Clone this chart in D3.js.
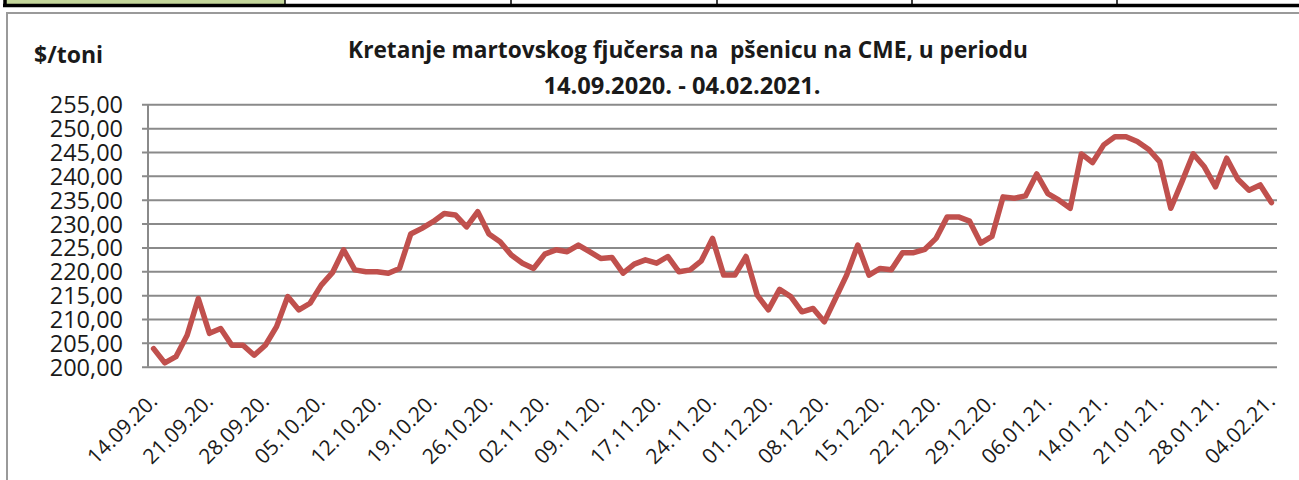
<!DOCTYPE html>
<html>
<head>
<meta charset="utf-8">
<script src="https://cdn.jsdelivr.net/npm/d3@7"></script>
<style>
  html, body { margin: 0; padding: 0; background: #fff; }
  svg { display: block; }
  text { font-family: "Open Sans", Lato, sans-serif; fill: #1a1a1a; }
</style>
</head>
<body>
<svg id="chart" width="1299" height="480"></svg>
<script>
// wheat march futures, $/t, one value per trading day
var prices = [
  203.8, 200.8, 202.1, 206.6, 214.3, 207.0, 208.0, 204.5, 204.5, 202.4,
  204.5, 208.4, 214.7, 211.9, 213.3, 217.1, 219.7, 224.5, 220.3, 219.9,
  219.9, 219.6, 220.6, 227.8, 229.0, 230.4, 232.1, 231.8, 229.3, 232.5,
  227.8, 226.2, 223.4, 221.7, 220.6, 223.6, 224.5, 224.1, 225.5, 224.1,
  222.7, 222.9, 219.6, 221.5, 222.4, 221.7, 223.1, 219.9, 220.3, 222.2,
  226.9, 219.2, 219.2, 223.1, 215.0, 211.9, 216.2, 214.7, 211.5, 212.2,
  209.4, 214.3, 219.2, 225.5, 219.2, 220.6, 220.3, 223.9, 223.9, 224.6,
  226.9, 231.4, 231.4, 230.5, 225.9, 227.3, 235.6, 235.3, 235.8, 240.4,
  236.3, 234.9, 233.2, 244.6, 242.8, 246.5, 248.2, 248.2, 247.2, 245.6,
  243.0, 233.2, 238.8, 244.6, 241.9, 237.7, 243.7, 239.3, 237.0, 238.1,
  234.4
];
// a label on every 5th trading day
var dateLabels = [
  "14.09.20.", "21.09.20.", "28.09.20.", "05.10.20.", "12.10.20.", "19.10.20.",
  "26.10.20.", "02.11.20.", "09.11.20.", "17.11.20.", "24.11.20.", "01.12.20.",
  "08.12.20.", "15.12.20.", "22.12.20.", "29.12.20.", "06.01.21.", "14.01.21.",
  "21.01.21.", "28.01.21.", "04.02.21."
];
var yTicks = [200, 205, 210, 215, 220, 225, 230, 235, 240, 245, 250, 255];
var topCells = [5, 285, 511, 717, 912, 1117];

var svg = d3.select("#chart");
var fmt = function(v) { return d3.format(".2f")(v).replace(".", ","); };

// bits of the table above the chart
svg.append("rect").attr("x", 5).attr("y", -2).attr("width", 280).attr("height", 7)
  .attr("fill", "#c4d79b");
svg.append("line").attr("x1", 3).attr("x2", 1299).attr("y1", 5.5).attr("y2", 5.5)
  .attr("stroke", "#000").attr("stroke-width", 3.5);
svg.selectAll(".cell").data(topCells).enter().append("line")
  .attr("x1", d => d).attr("x2", d => d).attr("y1", 0).attr("y2", 5)
  .attr("stroke", "#000").attr("stroke-width", d => d == 5 ? 3.5 : 1.5);

// chart frame
svg.append("path").attr("d", "M7,480 V13 H1299")
  .attr("fill", "none").attr("stroke", "#9a9a9a").attr("stroke-width", 2);

var x = d3.scaleBand().domain(d3.range(prices.length)).range([148, 1277]);
var y = d3.scaleLinear().domain([200, 255]).range([366.7, 104.3]);
var cx = i => x(i) + x.bandwidth() / 2;

// gridlines + left ticks
var yAxis = d3.axisLeft(y).tickValues(yTicks).tickSize(-1129).tickFormat(fmt);
var gy = svg.append("g").attr("transform", "translate(148,0)").call(yAxis);
gy.select(".domain").remove();
gy.selectAll(".tick line").attr("x1", -6).attr("stroke", "#8a8a8a").attr("stroke-width", 2);
gy.selectAll(".tick text").attr("x", -25).attr("dy", "0.36em").attr("font-size", 23.5)
  .attr("fill", "#1a1a1a").style("font-family", "'Open Sans', sans-serif");

svg.append("line").attr("x1", 148).attr("x2", 148).attr("y1", y(255)).attr("y2", y(200))
  .attr("stroke", "#8a8a8a").attr("stroke-width", 2);

// x labels
var xAxis = d3.axisBottom(x).tickValues(d3.range(0, prices.length, 5))
  .tickSize(0).tickFormat(i => dateLabels[i / 5]);
var gx = svg.append("g").attr("transform", "translate(0," + y(200) + ")").call(xAxis);
gx.select(".domain").remove();
gx.selectAll(".tick text")
  .attr("font-size", 21).attr("fill", "#1a1a1a").style("font-family", "'Open Sans', sans-serif")
  .attr("text-anchor", "end").attr("dy", 0).attr("y", 0)
  .attr("transform", "translate(5,36) rotate(-45)");

// series
var line = d3.line().x((d, i) => cx(i)).y(d => y(d));
svg.append("path").datum(prices).attr("d", line)
  .attr("fill", "none").attr("stroke", "#c0504d").attr("stroke-width", 5.5)
  .attr("stroke-linejoin", "round").attr("stroke-linecap", "round");

// titles
svg.append("text").attr("x", 34).attr("y", 63).attr("font-size", 23).attr("font-weight", 700)
  .text("$/toni");
var title = svg.append("text").attr("text-anchor", "middle").attr("font-size", 22.7)
  .attr("font-weight", 700);
title.append("tspan").attr("x", 688).attr("y", 58)
  .text("Kretanje martovskog fjučersa na\u00a0 pšenicu na CME, u periodu");
title.append("tspan").attr("x", 682).attr("y", 94).attr("font-size", 23.7)
  .text("14.09.2020. - 04.02.2021.");
</script>
</body>
</html>
